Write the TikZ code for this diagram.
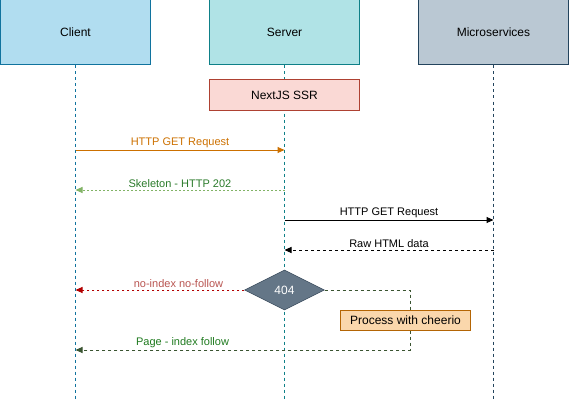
\documentclass[tikz,border=0pt]{standalone}
\usepackage{fontspec}
\setmainfont{Liberation Sans}
\usetikzlibrary{arrows.meta,shapes.geometric,positioning,calc}
\tikzset{>={Triangle[length=7pt,width=6pt]}}

\definecolor{clientfill}{HTML}{B1DDF0}
\definecolor{clientline}{HTML}{10739E}
\definecolor{serverfill}{HTML}{B0E3E6}
\definecolor{serverline}{HTML}{0E8088}
\definecolor{microfill}{HTML}{BAC8D3}
\definecolor{microline}{HTML}{23445D}
\definecolor{ssrfill}{HTML}{FAD9D5}
\definecolor{ssrline}{HTML}{AE4132}
\definecolor{checkfill}{HTML}{647687}
\definecolor{checkline}{HTML}{314354}
\definecolor{cheeriofill}{HTML}{FAD7AC}
\definecolor{cheerioline}{HTML}{B46504}
\definecolor{getline}{HTML}{CC7000}
\definecolor{skelline}{HTML}{82B366}
\definecolor{skeltext}{HTML}{2A7A2A}
\definecolor{noline}{HTML}{B20000}
\definecolor{notext}{HTML}{B85450}
\definecolor{pageline}{HTML}{3A5431}
\definecolor{pagetext}{HTML}{1E7A1E}

\tikzset{
	actor/.style={draw, line width=1pt, minimum width=150pt, minimum height=65pt, font=\fontsize{12}{14}\selectfont},
	life/.style={line width=0.8pt, dash pattern=on 3pt off 3pt},
	msg/.style={->, line width=1pt},
	msglabel/.style={font=\fontsize{11}{13}\selectfont, above=1pt, inner sep=1pt},
	stepbox/.style={draw, line width=1pt, font=\fontsize{12}{14}\selectfont, inner sep=0pt},
}

\begin{document}
\begin{tikzpicture}[x=1pt, y=-1pt]
		\useasboundingbox (0,0) rectangle (569,401);

		% actors
		\node[actor, fill=clientfill, draw=clientline] (client) at (75.5,32.5) {Client};
		\node[actor, fill=serverfill, draw=serverline] (server) at (284.5,32.5) {Server};
		\node[actor, fill=microfill, draw=microline] (micro) at (493.5,32.5) {Microservices};

		% lifelines
		\coordinate (clientEnd) at (client |- 0,401);
		\coordinate (serverEnd) at (server |- 0,401);
		\coordinate (microEnd) at (micro |- 0,401);
		\draw[life, draw=clientline] (client) -- (clientEnd);
		\draw[life, draw=serverline] (server) -- (serverEnd);
		\draw[life, draw=microline] (micro) -- (microEnd);

		\node[stepbox, fill=ssrfill, draw=ssrline, minimum width=150pt, minimum height=30pt] (ssr) at (284.5,95) {NextJS SSR};

		% messages
		\coordinate (getC) at (client |- 0,150);
		\coordinate (getS) at (server |- 0,150);
		\coordinate (skelS) at (server |- 0,190);
		\coordinate (skelC) at (client |- 0,190);
		\coordinate (fetchS) at (server |- 0,220);
		\coordinate (fetchM) at (micro |- 0,220);
		\coordinate (rawM) at (micro |- 0,250);
		\coordinate (rawS) at (server |- 0,250);

		\draw[msg, draw=getline] (getC) -- node[msglabel, text=getline] {HTTP GET Request} (getS);
		\draw[msg, draw=skelline, dash pattern=on 2pt off 2pt] (skelS) -- node[msglabel, text=skeltext] {Skeleton - HTTP 202} (skelC);
		\draw[msg, draw=black] (fetchS) -- node[msglabel] {HTTP GET Request} (fetchM);
		\draw[msg, draw=black, dash pattern=on 3pt off 3pt] (rawM) -- node[msglabel] {Raw HTML data} (rawS);

		% decision
		\node[diamond, draw=checkline, fill=checkfill, text=white, aspect=2, inner sep=0pt,
			minimum width=80pt, minimum height=40pt, font=\fontsize{12}{14}\selectfont] (check) at (284.5,290) {404};

		\coordinate (noC) at (client |- 0,290);
		\coordinate (turnA) at (410,290);
		\coordinate (turnB) at (410,350);
		\coordinate (pageC) at (client |- 0,350);

		\draw[msg, draw=noline, dash pattern=on 2pt off 3pt] (check.west) -- node[msglabel, pos=0.39, text=notext] {no-index no-follow} (noC);
		\draw[msg, draw=pageline, dash pattern=on 3pt off 3pt] (check.east) -- (turnA) -- (turnB) -- node[msglabel, pos=0.68, text=pagetext] {Page - index follow} (pageC);

		\node[stepbox, fill=cheeriofill, draw=cheerioline, minimum width=130pt, minimum height=20pt] (cheerio) at (405.5,320.5) {Process with cheerio};
	\end{tikzpicture}
\end{document}
